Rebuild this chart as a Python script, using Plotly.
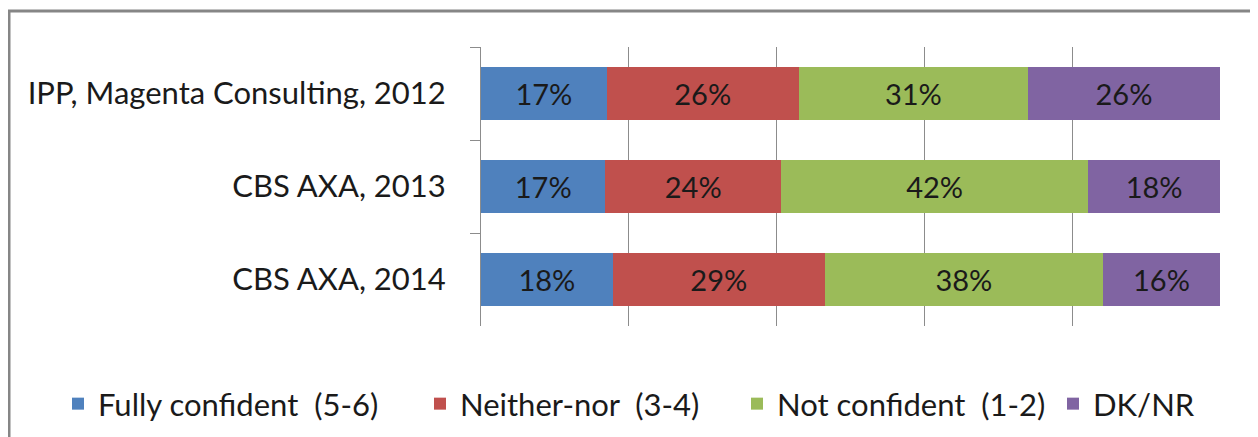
import plotly.graph_objects as go

categories = ["IPP, Magenta Consulting, 2012", "CBS AXA, 2013", "CBS AXA, 2014"]
series_names = ["Fully confident \u00a0(5-6)", "Neither-nor \u00a0(3-4)",
                "Not confident \u00a0(1-2)", "DK/NR"]
fully = [17, 17, 18]
neither = [26, 24, 29]
not_conf = [31, 42, 38]
dknr = [26, 18, 16]
colors = ["#4F81BD", "#C0504D", "#9BBB59", "#8064A2"]

OFF = 8  # page body margin
W, H = 1258 - OFF, 437 - OFF
L, R, T, B = 481 - OFF, 1258 - 1220, 47 - OFF, 437 - 326
pw, ph = W - L - R, H - T - B


def px_x(p):
    return (p - OFF - L) / pw


def px_y(p):
    return (T + ph - (p - OFF)) / ph


FONT = "Lato, Open Sans, sans-serif"
legend_ids = ["legend", "legend2", "legend3", "legend4"]
legend_square_left = [78, 440, 757, 1073]

fig = go.Figure()
for name, vals, col, lid in zip(series_names, [fully, neither, not_conf, dknr], colors, legend_ids):
    fig.add_trace(go.Bar(
        y=categories, x=vals, name=name, orientation="h",
        marker=dict(color=col, line=dict(width=0)),
        text=[f"{v}%" for v in vals], textposition="inside",
        insidetextanchor="middle",
        textfont=dict(family=FONT, size=29, color="#1a1a1a"),
        hoverinfo="skip", legend=lid,
    ))

legend_common = dict(orientation="h", xref="paper", yref="paper", xanchor="left",
                     y=px_y(404), yanchor="middle", bgcolor="rgba(0,0,0,0)",
                     font=dict(size=31, color="#1a1a1a"), itemwidth=30, indentation=-10)

fig.update_layout(
    width=W, height=H,
    margin=dict(l=L, r=R, t=T, b=B, autoexpand=False),
    barmode="stack", barnorm="percent", bargap=0.43,
    paper_bgcolor="white", plot_bgcolor="white",
    font=dict(family=FONT, color="#1a1a1a"),
    uniformtext=dict(minsize=29, mode="show"),
    xaxis=dict(range=[0, 100], showticklabels=False, showgrid=True, gridcolor="#8c8c8c",
               gridwidth=1, dtick=20, tick0=0, zeroline=False, showline=False, ticks="",
               fixedrange=True),
    yaxis=dict(autorange="reversed", showline=True, linecolor="#8c8c8c", linewidth=1,
               ticks="outside", tickson="boundaries", ticklen=10, tickcolor="#8c8c8c",
               showgrid=False, tickfont=dict(size=31, color="#1a1a1a"), ticklabelstandoff=28),
    showlegend=True,
)
for lid, sq in zip(legend_ids, legend_square_left):
    fig.update_layout({lid: dict(legend_common, x=px_x(sq - 10))})

# chart border
fig.add_shape(type="rect", xref="paper", yref="paper",
              x0=px_x(9), x1=px_x(1252),
              y0=px_y(445), y1=px_y(11),
              line=dict(color="#868686", width=3), fillcolor="rgba(0,0,0,0)", layer="below")

fig.write_html("out.html")
